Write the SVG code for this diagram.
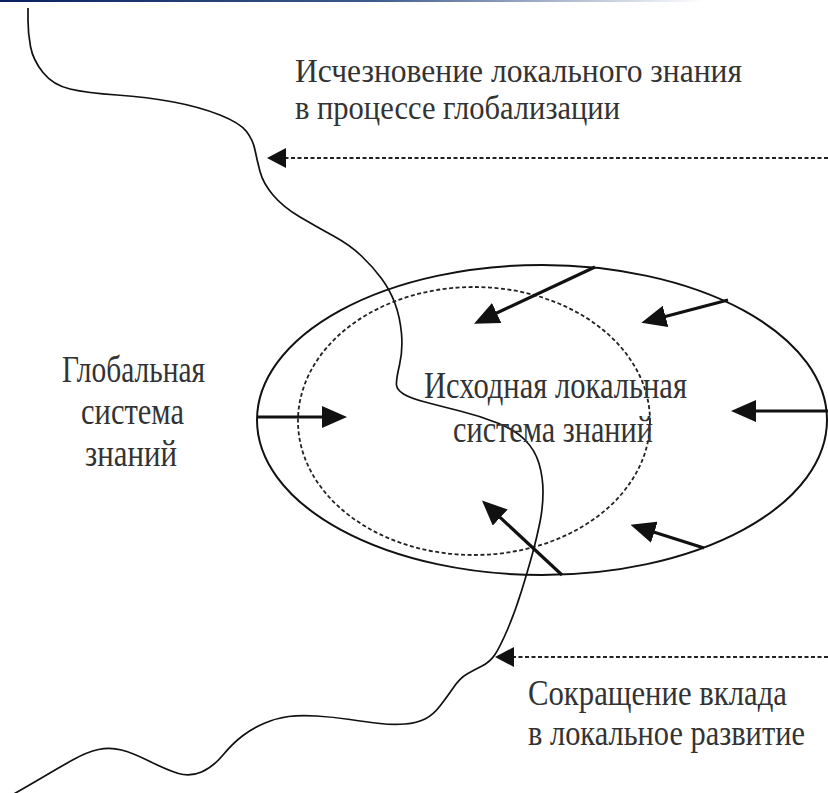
<svg xmlns="http://www.w3.org/2000/svg" width="828" height="793" viewBox="0 0 828 793">
<defs>
<linearGradient id="topbar" x1="0" y1="0" x2="1" y2="0">
<stop offset="0" stop-color="#0a1f5e"/>
<stop offset="0.45" stop-color="#3d5a8c"/>
<stop offset="0.85" stop-color="#ffffff"/>
</linearGradient>
<marker id="solidHead" markerUnits="userSpaceOnUse" markerWidth="25" markerHeight="22" viewBox="0 0 25 22" refX="14" refY="11" orient="auto">
<path d="M0,0 L25,11 L0,22 z" fill="#111"/>
</marker>
<marker id="dashHead" markerUnits="userSpaceOnUse" markerWidth="19" markerHeight="20" viewBox="0 0 19 20" refX="10" refY="10" orient="auto">
<path d="M0,0 L19,10 L0,20 z" fill="#111"/>
</marker>
</defs>
<style>
.lbl{font-family:"Liberation Serif","Times New Roman",serif;fill:#333;}
.top{font-size:33px;}
.bot{font-size:36px;}
.lft{font-size:37px;}
.ctr{font-size:38px;}
.solid{stroke:#111;stroke-width:3.2;fill:none;marker-end:url(#solidHead);}
.dash{stroke:#222;stroke-width:2;stroke-dasharray:4 2.5;fill:none;marker-end:url(#dashHead);}
.ell{fill:none;stroke:#111;stroke-width:2;}
.ellDash{fill:none;stroke:#222;stroke-width:1.8;stroke-dasharray:4 2.5;}
.wave{fill:none;stroke:#111;stroke-width:1.7;}
</style>
<rect x="0" y="0" width="828" height="2" fill="url(#topbar)"/>

<g id="boundary">
<path class="wave" d="M28,8 L28,20.5 Q28,33 30.5,46.5 Q33,60 43,72.5 Q53,85 70,89 Q87,93 117,95 Q147,97 173.5,102 Q200,107 220,115 Q240,123 246.5,131.5 Q253,140 255,150 Q257,160 260,171.5 Q263,183 273,195 Q283,207 300,217 Q317,227 333.5,236 Q350,245 361.5,256 Q373,267 381.5,278.5 Q390,290 395,303.5 Q400,317 401.5,333.5 Q403,350 399.5,365 Q396,380 396.5,385 Q397,390 403.5,394 Q410,398 425,402 Q440,406 460,411 Q480,416 497.5,423 Q515,430 525,440 Q535,450 539,463.5 Q543,477 543,492 Q543,507 540,522 Q537,537 532.5,553.5 Q528,570 521.5,591 Q515,612 507.5,629.5 Q500,647 495,654.5 Q490,662 482,666 Q474,670 467,674 Q460,678 453.5,687.5 Q447,697 440,706 Q433,715 425,719 Q417,723 405,724 Q393,725 380,723.5 Q367,722 350,719.5 Q333,717 316.5,716 Q300,715 288.5,716.5 Q277,718 265,723 Q253,728 243,735.5 Q233,743 223,755 Q213,767 201.5,772 Q190,777 178.5,773.5 Q167,770 150,761.5 Q133,753 121.5,750 Q110,747 98.5,749.5 Q87,752 73.5,759.5 Q60,767 46.5,775 Q33,783 22.5,789 L12,795"/>
</g>

<g id="outer-ellipse">
<ellipse class="ell" cx="542" cy="420" rx="285" ry="155"/>
</g>
<g id="local-system">
<ellipse class="ellDash" cx="474" cy="421" rx="176" ry="134"/>
<text class="lbl ctr" transform="translate(424,398) scale(0.8,1)" x="0" y="0" textLength="328.75" lengthAdjust="spacingAndGlyphs">Исходная локальная</text>
<text class="lbl ctr" transform="translate(453,442) scale(0.8,1)" x="0" y="0" textLength="250" lengthAdjust="spacingAndGlyphs">система знаний</text>
</g>

<g id="global-system">
<text class="lbl lft" transform="translate(62,382) scale(0.8,1)" x="0" y="0" textLength="178.75" lengthAdjust="spacingAndGlyphs">Глобальная</text>
<text class="lbl lft" transform="translate(81,424) scale(0.8,1)" x="0" y="0" textLength="128.75" lengthAdjust="spacingAndGlyphs">система</text>
<text class="lbl lft" transform="translate(85,466) scale(0.8,1)" x="0" y="0" textLength="115" lengthAdjust="spacingAndGlyphs">знаний</text>
</g>

<g id="label-disappearance">
<text class="lbl top" transform="translate(295,82) scale(0.8,1)" x="0" y="0" textLength="558.75" lengthAdjust="spacingAndGlyphs">Исчезновение локального знания</text>
<text class="lbl top" transform="translate(295,119) scale(0.8,1)" x="0" y="0" textLength="406.25" lengthAdjust="spacingAndGlyphs">в процессе глобализации</text>
</g>

<g id="label-reduction">
<text class="lbl bot" transform="translate(528,705) scale(0.8,1)" x="0" y="0" textLength="323.75" lengthAdjust="spacingAndGlyphs">Сокращение вклада</text>
<text class="lbl bot" transform="translate(528,745) scale(0.8,1)" x="0" y="0" textLength="346.25" lengthAdjust="spacingAndGlyphs">в локальное развитие</text>
</g>

<g id="connectors">
<line class="dash" x1="828" y1="158" x2="276" y2="158"/>
<line class="dash" x1="828" y1="657" x2="504" y2="657"/>
<line class="solid" x1="595" y1="267" x2="484" y2="319"/>
<line class="solid" x1="728" y1="300" x2="652" y2="320"/>
<line class="solid" x1="258" y1="417" x2="336" y2="417"/>
<line class="solid" x1="828" y1="411" x2="742" y2="411"/>
<line class="solid" x1="562" y1="575" x2="490" y2="508"/>
<line class="solid" x1="704" y1="548" x2="641" y2="528"/>
</g>
</svg>
